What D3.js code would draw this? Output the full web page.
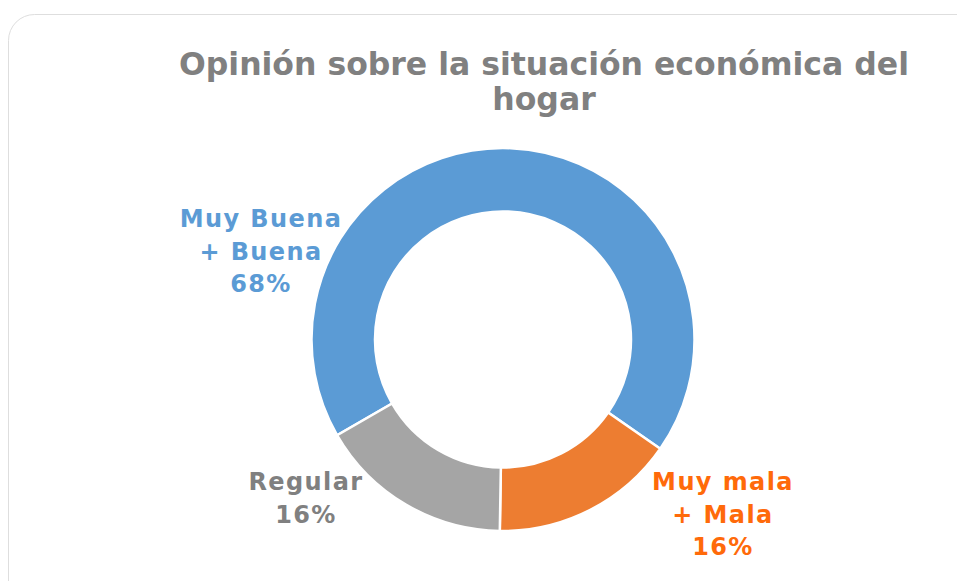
<!DOCTYPE html>
<html lang="es">
<head>
    <meta charset="UTF-8">
    <title>Opinión sobre la situación económica del hogar</title>
    <style>
        body { margin: 0; background: #fff; }
        text { font-family: "DejaVu Sans", Verdana, sans-serif; font-weight: bold; }
    </style>
</head>
<body>
<script src="https://cdn.jsdelivr.net/npm/d3@7"></script>
<script>
    // slice sizes as read from the ring; labels show the rounded figures
    const categories = ['Muy Buena + Buena', 'Muy mala + Mala', 'Regular'];
    const values = [68, 15.6, 16.4];
    const label_lines = [['Muy Buena', '+ Buena', '68%'], ['Muy mala', '+ Mala', '16%'], ['Regular', '16%']];
    const colors = ['#5B9BD5', '#ED7D31', '#A5A5A5'];
    const label_colors = ['#5B9BD5', '#FF6A0A', '#808080'];

    const svg_w = 957;
    const svg_h = 581;
    const cx = 503, cy = 339.5;
    const outer_r = 191.5, inner_r = 128;

    const svg = d3.select('body').append('svg')
        .attr('width', svg_w)
        .attr('height', svg_h);

    // chart frame
    svg.append('rect')
        .attr('x', 8.5).attr('y', 14.5)
        .attr('width', 980).attr('height', 620)
        .attr('rx', 26)
        .attr('fill', '#fff')
        .attr('stroke', '#dedede')
        .attr('stroke-width', 1);

    // title
    const title = svg.append('text')
        .attr('x', 544).attr('y', 75)
        .attr('text-anchor', 'middle')
        .attr('fill', '#808080')
        .style('font-size', '31.5px');
    title.append('tspan').attr('x', 544).text('Opinión sobre la situación económica del');
    title.append('tspan').attr('x', 544).attr('dy', 35).text('hogar');

    const start = 240 * Math.PI / 180;
    const pie = d3.pie().sort(null).value(d => d)
        .startAngle(start).endAngle(start + 2 * Math.PI);
    const arc = d3.arc().innerRadius(inner_r).outerRadius(outer_r);

    const g = svg.append('g').attr('transform', `translate(${cx}, ${cy})`);
    g.selectAll('path')
        .data(pie(values))
        .enter()
        .append('path')
        .attr('d', arc)
        .attr('fill', (d, i) => colors[i])
        .attr('stroke', '#fff')
        .attr('stroke-width', 2.5);

    // labels, placed outside the ring
    const label_pos = [[261, 227], [723, 490], [306, 490]];
    categories.forEach((c, i) => {
        const t = svg.append('text')
            .attr('text-anchor', 'middle')
            .attr('fill', label_colors[i])
            .style('font-size', '24px')
            .style('letter-spacing', '1.4px');
        label_lines[i].forEach((line, j) => {
            t.append('tspan')
                .attr('x', label_pos[i][0])
                .attr('y', label_pos[i][1] + j * 32.5)
                .text(line);
        });
    });
</script>
</body>
</html>
